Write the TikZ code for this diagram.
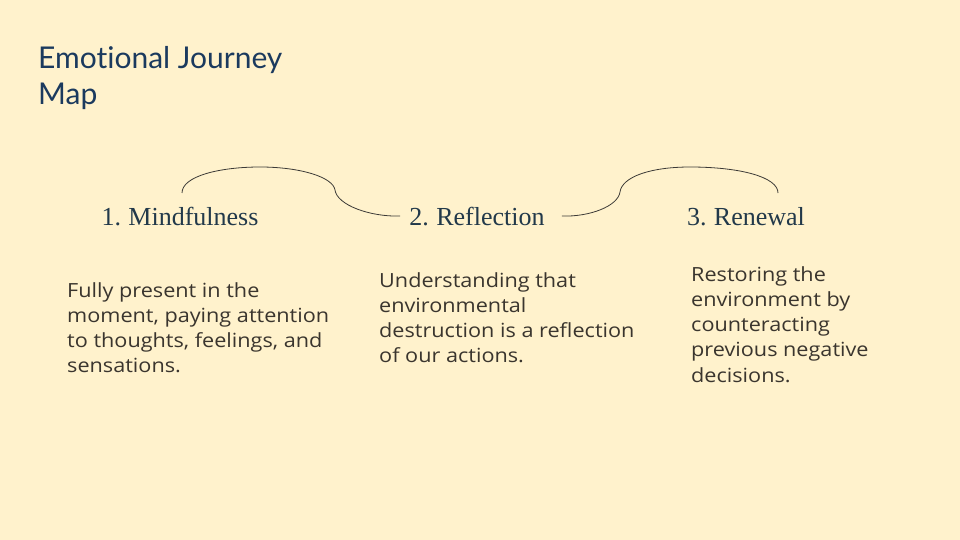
\documentclass[tikz,border=0pt]{standalone}
\usepackage{fontspec}
\setmainfont{Liberation Serif}
\newfontfamily\titlefont[Ligatures=NoCommon]{Lato}
\newfontfamily\bodyfont[FakeStretch=1.11]{Open Sans}
\usepackage{xcolor}
\definecolor{paper}{HTML}{FFF2CC}
\definecolor{titleblue}{HTML}{1B3A5E}
\definecolor{headslate}{HTML}{22394A}
\definecolor{bodytext}{HTML}{3A352E}
\definecolor{arcline}{HTML}{3C3A36}
\usetikzlibrary{calc}
\newcommand{\stagefont}{\fontsize{26}{30}\selectfont\spaceskip 0.2em\relax}

\begin{document}
\begin{tikzpicture}[x=1pt, y=-1pt,
  stage/.style={font=\stagefont, text=headslate, anchor=base, inner xsep=9pt},
  note/.style={font=\bodyfont\fontsize{19.5}{25.3}\selectfont, text=bodytext,
    anchor=north west, align=left, inner sep=0pt},
  arc/.style={draw=arcline, line width=0.8pt},
]
  % Background
  \fill[paper] (0,0) rectangle (960,540);
  \useasboundingbox (0,0) rectangle (960,540);

  % Title
  \node[anchor=north west, inner sep=0pt, align=left,
    font=\titlefont\fontsize{30}{36}\selectfont, text=titleblue] (title)
    at (38,46) {Emotional Journey\\Map};

  % Stages
  \node[stage] (mindful) at (180,225) {1. Mindfulness};
  \node[stage] (reflect) at (477,225) {2. Reflection};
  \node[stage] (renew) at (746,225) {3. Renewal};

  % Stage notes
  \node[note] (mindfultxt) at (67,282)
    {Fully present in the\\moment, paying attention\\to thoughts, feelings, and\\sensations.};
  \node[note] (reflecttxt) at (379,272)
    {Understanding that\\environmental\\destruction is a reflection\\of our actions.};
  \node[note] (renewtxt) at (691,266)
    {Restoring the\\environment by\\counteracting\\previous negative\\decisions.};

  % Wave
  \coordinate (mindtop) at (182,193);
  \coordinate (renewtop) at (778,193);
  \draw[arc] (mindtop) .. controls (182,176) and (220,167) .. (260,167)
    .. controls (300,167) and (333,177) .. (335,190)
    .. controls (337,205) and (370,217) .. (reflect.west);
  \draw[arc] ([xshift=8pt]reflect.east) .. controls (590,217) and (618,206) .. (620,192)
    .. controls (622,177) and (650,167) .. (690,167)
    .. controls (740,167) and (778,177) .. (renewtop);
\end{tikzpicture}
\end{document}
